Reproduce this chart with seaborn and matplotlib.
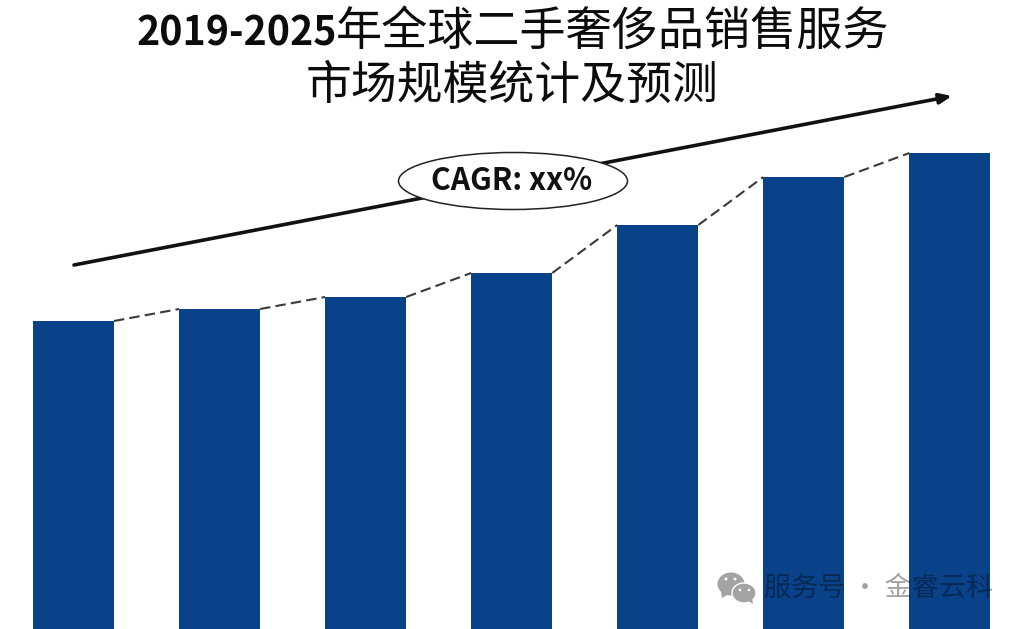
import matplotlib
matplotlib.use("Agg")
import matplotlib.pyplot as plt
import seaborn as sns
import pandas as pd
from matplotlib.patches import Ellipse, Polygon

years = ["2019", "2020", "2021", "2022", "2023", "2024", "2025"]
values = [308, 320, 332, 356, 404, 452, 476]
title_num = "2019-2025"
title_rest = "年全球二手奢侈品销售服务"
title_line2 = "市场规模统计及预测"
cagr_label = "CAGR: xx%"
watermark = "服务号 · 金睿云科"

sns.set_theme(style="white")
plt.rcParams['font.family'] = ['Noto Sans CJK SC', 'DejaVu Sans']

W, H = 1024, 629
fig = plt.figure(figsize=(W/100, H/100), dpi=100)
ax = fig.add_axes([0, 0, 1, 1])
df = pd.DataFrame({"year": years, "value": values})
sns.barplot(data=df, x="year", y="value", color="#0A4289", saturation=1, width=0.555, linewidth=0, ax=ax)
ax.set_xlim(-0.503, 6.507)
ax.set_ylim(0, 629)
ax.axis("off")

for i in range(len(values)-1):
    ax.plot([i+0.2775, i+1-0.2775], [values[i], values[i+1]], ls=(0, (5, 2.5)), color="#3a3a3a", lw=1.5)

ax2 = fig.add_axes([0, 0, 1, 1])
ax2.set_xlim(0, W); ax2.set_ylim(H, 0); ax2.axis("off"); ax2.patch.set_alpha(0)

ax2.text(137, 46, title_num, ha="left", va="baseline", fontsize=28.3, fontweight="bold", color="#0c0c0c")
ax2.text(336, 45, title_rest, ha="left", va="baseline", fontsize=33.2, color="#0c0c0c")
ax2.text(512.5, 99, title_line2, ha="center", va="baseline", fontsize=33, color="#0c0c0c")

ax2.annotate("", xy=(952, 96), xytext=(74, 265),
             arrowprops=dict(arrowstyle="-|>,head_width=0.25,head_length=0.6", lw=2.6, color="#111111", shrinkA=0, shrinkB=0))
ax2.add_patch(Ellipse((513, 181), 229, 57, fc="white", ec="#222222", lw=1.1, zorder=3))
ax2.text(512, 181, cagr_label, ha="center", va="center", fontsize=21.8, fontweight="bold", color="#111111", zorder=4)

# watermark: two speech bubbles with eyes
gray = "#a3a3a3"
ax2.add_patch(Ellipse((731, 584), 27, 23, fc=gray, ec="none", zorder=3))
ax2.add_patch(Polygon([(721, 591), (722, 598), (729, 594)], fc=gray, ec="none", zorder=3))
ax2.add_patch(Ellipse((744, 593), 24, 20, fc=gray, ec="white", lw=1, zorder=3))
ax2.add_patch(Polygon([(747, 600), (753, 604), (752, 597)], fc=gray, ec="none", zorder=3))
for cx, cy, r in [(726, 579, 3), (735, 579, 3), (740, 590, 2.5), (749, 590, 2.5)]:
    ax2.add_patch(Ellipse((cx, cy), r, r, fc="white", ec="none", zorder=4))
ax2.text(878.5, 588, watermark, ha="center", va="center", fontsize=19.5, color="black", alpha=0.36, zorder=4)

fig.savefig("out.png", dpi=100)
